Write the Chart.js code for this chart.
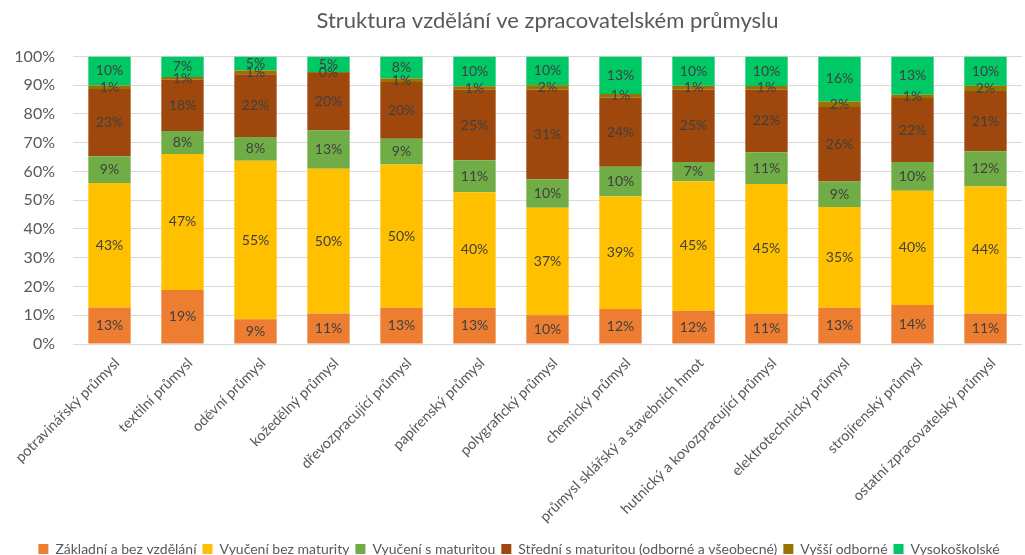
<!DOCTYPE html>
<html>
<head>
<meta charset="utf-8">
<script src="https://cdn.jsdelivr.net/npm/chart.js@4/dist/chart.umd.min.js"></script>
<style>
html,body{margin:0;padding:0;background:#fff;}
#wrap{width:1025px;height:555px;position:relative;}
</style>
</head>
<body>
<div id="wrap"><canvas id="c"></canvas></div>
<script>
const categories = ["potravinářský průmysl","textilní průmysl","oděvní průmysl","kožedělný průmysl","dřevozpracující průmysl","papírenský průmysl","polygrafický průmysl","chemický průmysl","průmysl sklářský a stavebních hmot","hutnický a kovozpracující průmysl","elektrotechnický průmysl","strojírenský průmysl","ostatní zpracovatelský průmysl"];
const seriesNames = ["Základní a bez vzdělání","Vyučení bez maturity","Vyučení s maturitou","Střední s maturitou (odborné a všeobecné)","Vyšší odborné","Vysokoškolské"];
const zakladni   = [12.7,18.8, 8.6,10.6,12.6,12.6,10.0,12.2,11.6,10.6,12.6,13.6,10.6];
const vyuceniBez = [43.3,47.3,55.1,50.3,49.8,40.2,37.4,39.2,45.0,45.0,35.0,39.7,44.2];
const vyuceniS   = [ 9.3, 8.0, 8.3,13.3, 9.0,11.1, 9.9,10.2, 6.7,11.1, 8.9,10.0,12.2];
const stredni    = [23.4,17.9,21.8,20.0,19.7,24.5,31.2,24.0,25.2,21.8,25.9,22.2,21.0];
const vyssi      = [ 1.2, 0.8, 1.3, 0.4, 1.2, 1.2, 1.5, 1.3, 1.3, 1.2, 1.9, 1.2, 1.8];
const vysoko     = [10.1, 7.2, 4.9, 5.4, 7.7,10.4,10.0,13.1,10.2,10.3,15.7,13.3,10.2];
const yTicks = [0,10,20,30,40,50,60,70,80,90,100];

const colors = ["#ED7D31","#FFC000","#70AD47","#9E480E","#997300","#00C864"];
const seriesData = [zakladni,vyuceniBez,vyuceniS,stredni,vyssi,vysoko];
const FONT = 'Lato, "Open Sans", sans-serif';

const labelPlugin = {
  id:'barLabels',
  afterDatasetsDraw(chart){
    const ctx = chart.ctx;
    ctx.save();
    ctx.font = '14px ' + FONT;
    ctx.fillStyle = '#404040';
    ctx.textAlign = 'center';
    ctx.textBaseline = 'middle';
    chart.data.datasets.forEach((ds,di)=>{
      const meta = chart.getDatasetMeta(di);
      meta.data.forEach((el,i)=>{
        const v = ds.data[i];
        const y = (el.y + el.base)/2;
        ctx.fillText(Math.round(v)+'%', el.x, y);
      });
    });
    ctx.restore();
  }
};

const xLabelPlugin = {
  id:'xLabels',
  afterDraw(chart){
    const sx = chart.scales.x;
    const ctx = chart.ctx;
    ctx.save();
    ctx.font = '14.5px ' + FONT;
    ctx.fillStyle = '#595959';
    ctx.textAlign = 'right';
    ctx.textBaseline = 'alphabetic';
    chart.data.labels.forEach((lab,i)=>{
      const x = sx.getPixelForTick(i);
      ctx.save();
      ctx.translate(x + 11, sx.top + 20);
      ctx.rotate(-Math.PI/4);
      ctx.fillText(lab, 0, 0);
      ctx.restore();
    });
    ctx.restore();
  }
};

new Chart(document.getElementById('c'),{
  type:'bar',
  data:{
    labels:categories,
    datasets:seriesNames.map((n,i)=>({
      label:n,
      data:seriesData[i],
      backgroundColor:colors[i],
      borderWidth:0,
      barPercentage:0.58,
      categoryPercentage:1.0
    }))
  },
  options:{
    responsive:true,
    maintainAspectRatio:false,
    animation:false,
    layout:{padding:{left:16,right:3,top:0,bottom:-11}},
    plugins:{
      title:{display:true,fullSize:false,text:'Struktura vzdělání ve zpracovatelském průmyslu',color:'#595959',
        font:{family:FONT,size:22,weight:'normal'},padding:{top:8,bottom:22}},
      legend:{position:'bottom',
        labels:{color:'#595959',boxWidth:10,boxHeight:10,padding:6,
          font:{family:FONT,size:14}}},
      tooltip:{enabled:false}
    },
    scales:{
      x:{stacked:true,grid:{display:false},border:{display:false},
        ticks:{display:false},
        afterFit(axis){axis.height = 192;}},
      y:{stacked:true,min:0,max:100,
        afterBuildTicks(axis){axis.ticks = yTicks.map(v=>({value:v}));},
        afterFit(axis){axis.width = 57;},
        grid:{color:'#d9d9d9',drawTicks:false},border:{display:false},
        ticks:{color:'#595959',padding:18,callback:v=>v+'%',
          font:{family:FONT,size:16}}}
    }
  },
  plugins:[labelPlugin, xLabelPlugin]
});
</script>
</body>
</html>
